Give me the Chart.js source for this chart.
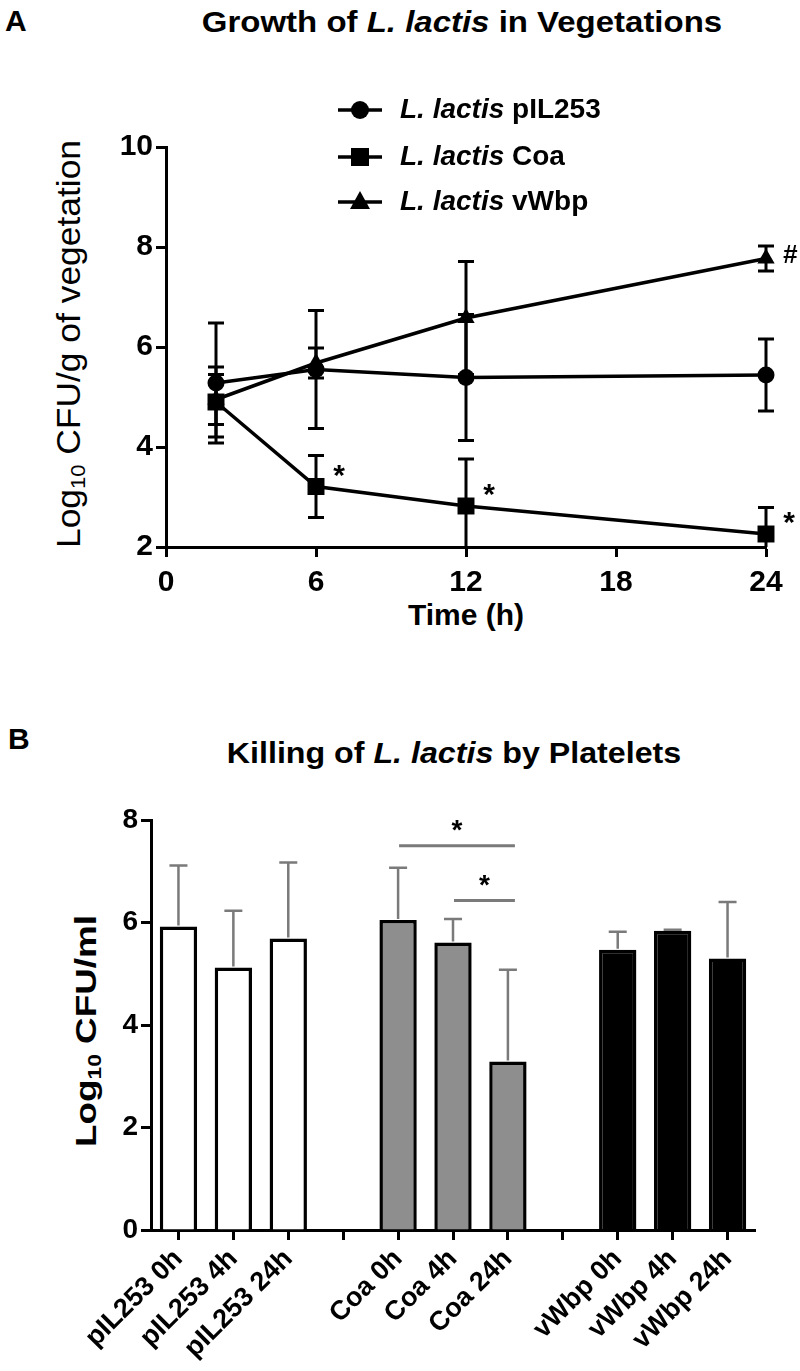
<!DOCTYPE html>
<html>
<head>
<meta charset="utf-8">
<script src="https://cdn.jsdelivr.net/npm/chart.js@4.4.1/dist/chart.umd.min.js"></script>
<style>
  body { margin: 0; background: #fff; }
  #page { position: relative; width: 800px; height: 1371px; overflow: hidden;
          font-family: "Liberation Sans", Arial, sans-serif; color: #000; }
  .box { position: absolute; left: 0; width: 800px; }
  .txt { position: absolute; white-space: nowrap; font-weight: bold; line-height: 1;
         transform: translate(-50%, -50%); }
  .panel { position: absolute; font-weight: bold; font-size: 30px; line-height: 1; }
  sub { font-size: 62%; vertical-align: -0.25em; line-height: 0; }
</style>
</head>
<body>
<div id="page">
  <div class="panel" style="left:5px; top:6px;">A</div>
  <div class="txt fit" data-w="520" style="left:462px; top:22px; font-size:30px;">Growth of <i>L. lactis</i> in Vegetations</div>
  <div class="txt" style="left:466px; top:615px; font-size:30px;">Time (h)</div>
  <div class="txt fit rot" data-w="408" style="left:68px; top:344px; font-size:34px; font-weight:normal;">Log<sub>10</sub> CFU/g of vegetation</div>

  <div class="panel" style="left:8px; top:724px;">B</div>
  <div class="txt fit" data-w="454" style="left:454px; top:753px; font-size:30px;">Killing of <i>L. lactis</i> by Platelets</div>
  <div class="txt fit rot" data-w="232" style="left:86px; top:1031px; font-size:30px;">Log<sub>10</sub> CFU/ml</div>

  <div class="box" style="top:0; height:660px;"><canvas id="growth"></canvas></div>
  <div class="box" style="top:660px; height:711px;"><canvas id="killing"></canvas></div>
</div>
<script>
// ---- panel A: growth in vegetations ----
const timeA = [2, 6, 12, 24];
const pil253A = [5.28, 5.55, 5.39, 5.44];
const pil253SdA = [1.2, 1.18, 1.26, 0.72];
const coaA = [4.9, 3.21, 2.82, 2.26];
const coaSdA = [0.7, 0.62, 0.94, 0.53];
const vwbpA = [4.95, 5.68, 6.58, 7.77];
const vwbpSdA = [0.5, 0.3, 1.13, 0.25];
const coaMarkA = ['', '*', '*', '*'];
const vwbpMarkA = ['', '', '', '#'];
const xTicksA = [0, 6, 12, 18, 24];
const yTicksA = [2, 4, 6, 8, 10];

// ---- panel B: killing by platelets ----
const labelsB = ['pIL253 0h', 'pIL253 4h', 'pIL253 24h', '', 'Coa 0h', 'Coa 4h', 'Coa 24h', '', 'vWbp 0h', 'vWbp 4h', 'vWbp 24h'];
const meansB = [5.92, 5.12, 5.69, null, 6.05, 5.61, 3.29, null, 5.47, 5.84, 5.30];
const sdB = [1.19, 1.11, 1.48, null, 1.02, 0.46, 1.79, null, 0.35, 0.02, 1.10];
const sigB = [[4, 6, 7.5], [5, 6, 6.43]]; // from bar, to bar, height of bracket
const yTicksB = [0, 2, 4, 6, 8];

const FONT = '"Liberation Sans", Arial, sans-serif';
const fillB = ['#ffffff', '#ffffff', '#ffffff', '#ffffff', '#8e8e8e', '#8e8e8e', '#8e8e8e', '#000', '#000000', '#000000', '#000000'];

function pts(xs, ys) {
    return xs.map(function (x, i) { return { x: x, y: ys[i] }; });
}

function fixTicks(values) {
    return function (scale) {
        scale.ticks = values.map(function (v) { return { value: v }; });
    };
}

function marker(ctx, style, x, y) {
    ctx.beginPath();
    if (style == 'circle') {
        ctx.arc(x, y, 9, 0, Math.PI * 2);
    } else if (style == 'rect') {
        ctx.rect(x - 9, y - 9, 18, 18);
    } else {
        ctx.moveTo(x, y - 11);
        ctx.lineTo(x + 10, y + 7);
        ctx.lineTo(x - 10, y + 7);
        ctx.closePath();
    }
    ctx.fill();
}

const errA = [pil253SdA, coaSdA, vwbpSdA];
const marksA = [[], coaMarkA, vwbpMarkA];

const growthExtras = {
    id: 'growthExtras',
    beforeDatasetsDraw: function (chart) {
        const ctx = chart.ctx, a = chart.chartArea;
        const x = chart.scales.x, y = chart.scales.y;
        ctx.save();
        ctx.beginPath();
        ctx.rect(a.left, 0, chart.width - a.left, a.bottom);
        ctx.clip();
        ctx.strokeStyle = '#000';
        ctx.lineWidth = 3;
        chart.data.datasets.forEach(function (ds, i) {
            ds.data.forEach(function (p, j) {
                const sd = errA[i][j];
                const px = x.getPixelForValue(p.x);
                const top = y.getPixelForValue(p.y + sd);
                const bot = y.getPixelForValue(p.y - sd);
                ctx.beginPath();
                ctx.moveTo(px, top); ctx.lineTo(px, bot);
                ctx.moveTo(px - 8, top); ctx.lineTo(px + 8, top);
                ctx.moveTo(px - 8, bot); ctx.lineTo(px + 8, bot);
                ctx.stroke();
            });
        });
        ctx.restore();
    },
    afterDatasetsDraw: function (chart) {
        const ctx = chart.ctx;
        const x = chart.scales.x, y = chart.scales.y;
        ctx.save();
        ctx.fillStyle = '#000';
        ctx.textAlign = 'center';
        ctx.textBaseline = 'middle';
        chart.data.datasets.forEach(function (ds, i) {
            ds.data.forEach(function (p, j) {
                const m = marksA[i][j];
                if (!m) return;
                const px = x.getPixelForValue(p.x), py = y.getPixelForValue(p.y);
                if (m == '*') {
                    ctx.font = 'bold 30px ' + FONT;
                    ctx.fillText(m, px + 23, py - 10);
                } else {
                    ctx.font = 'italic bold 26px ' + FONT;
                    ctx.fillText(m, px + 24, py - 3);
                }
            });
        });
        ctx.restore();
    },
    afterDraw: function (chart) {
        // legend: line + marker, italic species name, plain strain name
        const ctx = chart.ctx;
        const rows = [110, 157, 202];
        ctx.save();
        ctx.fillStyle = '#000';
        ctx.strokeStyle = '#000';
        ctx.textBaseline = 'middle';
        chart.data.datasets.forEach(function (ds, i) {
            const yy = rows[i];
            ctx.lineWidth = 3.5;
            ctx.beginPath();
            ctx.moveTo(338, yy); ctx.lineTo(382, yy);
            ctx.stroke();
            marker(ctx, ds.pointStyle, 360, yy);
            ctx.font = 'italic bold 28px ' + FONT;
            ctx.fillText('L. lactis', 400, yy);
            const w = ctx.measureText('L. lactis ').width;
            ctx.font = 'bold 28px ' + FONT;
            ctx.fillText(ds.label.replace('L. lactis ', ''), 400 + w, yy);
        });
        ctx.restore();
    }
};

function axisStyle(size) {
    return {
        grid: { display: true, drawOnChartArea: false, drawTicks: true, tickLength: 10, tickWidth: 3, tickColor: '#000' },
        border: { display: true, color: '#000', width: 3 },
        ticks: { color: '#000', font: { size: size, weight: 'bold', family: FONT } }
    };
}

function lineSet(label, ys, style, radius) {
    return {
        label: label,
        data: pts(timeA, ys),
        borderColor: '#000',
        backgroundColor: '#000',
        borderWidth: 3.5,
        pointStyle: style,
        pointRadius: radius,
        pointBackgroundColor: '#000',
        pointBorderColor: '#000',
        pointBorderWidth: 0,
        tension: 0,
        clip: false
    };
}

const gx = axisStyle(30), gy = axisStyle(30);
gx.type = 'linear'; gx.min = 0; gx.max = 24;
gx.ticks.padding = 8;
gx.afterBuildTicks = fixTicks(xTicksA);
gx.afterFit = function (s) { s.height = 113; };
gy.type = 'linear'; gy.min = 2; gy.max = 10;
gy.ticks.padding = 3;
gy.afterBuildTicks = fixTicks(yTicksA);
gy.afterFit = function (s) { s.width = 166; };

new Chart(document.getElementById('growth'), {
    type: 'line',
    data: {
        datasets: [
            lineSet('L. lactis pIL253', pil253A, 'circle', 8.5),
            lineSet('L. lactis Coa', coaA, 'rect', 12),
            lineSet('L. lactis vWbp', vwbpA, 'triangle', 10)
        ]
    },
    options: {
        responsive: true,
        maintainAspectRatio: false,
        animation: false,
        layout: { padding: { top: 147, right: 34, left: 0, bottom: 0 } },
        scales: { x: gx, y: gy },
        plugins: { legend: { display: false }, tooltip: { enabled: false } }
    },
    plugins: [growthExtras]
});

// ---- panel B chart ----
const killingExtras = {
    id: 'killingExtras',
    afterDatasetsDraw: function (chart) {
        const ctx = chart.ctx;
        const x = chart.scales.x, y = chart.scales.y;
        const meta = chart.getDatasetMeta(0);
        ctx.save();
        ctx.strokeStyle = '#7a7a7a';
        ctx.lineWidth = 2.5;
        meansB.forEach(function (m, i) {
            if (m === null) return;
            const px = meta.data[i].x;
            const top = y.getPixelForValue(m + sdB[i]);
            const base = y.getPixelForValue(m) - 1;
            ctx.beginPath();
            ctx.moveTo(px, base); ctx.lineTo(px, top);
            ctx.moveTo(px - 9, top); ctx.lineTo(px + 9, top);
            ctx.stroke();
        });
        // significance brackets
        ctx.lineWidth = 3;
        ctx.fillStyle = '#000';
        ctx.font = 'bold 28px ' + FONT;
        ctx.textAlign = 'center';
        ctx.textBaseline = 'middle';
        sigB.forEach(function (s) {
            const x1 = x.getPixelForValue(s[0]) + 1;
            const x2 = x.getPixelForValue(s[1]) + 7;
            const py = y.getPixelForValue(s[2]);
            ctx.beginPath();
            ctx.moveTo(x1, py); ctx.lineTo(x2, py);
            ctx.stroke();
            ctx.fillText('*', (x1 + x2) / 2, py - 14);
        });
        ctx.restore();
    }
};

const kx = axisStyle(27), ky = axisStyle(28);
kx.type = 'category';
kx.offset = true;
kx.grid.offset = false;
kx.ticks.autoSkip = false;
kx.ticks.minRotation = 45;
kx.ticks.maxRotation = 45;
kx.ticks.padding = 3;
kx.afterFit = function (s) { s.height = 141; };
ky.type = 'linear'; ky.min = 0; ky.max = 8;
ky.ticks.padding = 3;
ky.afterBuildTicks = fixTicks(yTicksB);
ky.afterFit = function (s) { s.width = 151; };

new Chart(document.getElementById('killing'), {
    type: 'bar',
    data: {
        labels: labelsB,
        datasets: [{
            data: meansB,
            backgroundColor: fillB,
            borderColor: '#000',
            borderWidth: 3.5,
            borderSkipped: 'bottom',
            categoryPercentage: 1,
            barPercentage: 0.68
        }]
    },
    options: {
        responsive: true,
        maintainAspectRatio: false,
        animation: false,
        layout: { padding: { top: 160, right: 45, left: 0, bottom: 0 } },
        scales: { x: kx, y: ky },
        plugins: { legend: { display: false }, tooltip: { enabled: false } }
    },
    plugins: [killingExtras]
});

// squeeze/stretch the free text to the widths seen in the figure
document.querySelectorAll('.fit').forEach(function (el) {
    const k = Number(el.dataset.w) / el.offsetWidth;
    const rot = el.classList.contains('rot') ? ' rotate(-90deg)' : '';
    el.style.transform = 'translate(-50%, -50%)' + rot + ' scaleX(' + k.toFixed(3) + ')';
});
</script>
</body>
</html>
